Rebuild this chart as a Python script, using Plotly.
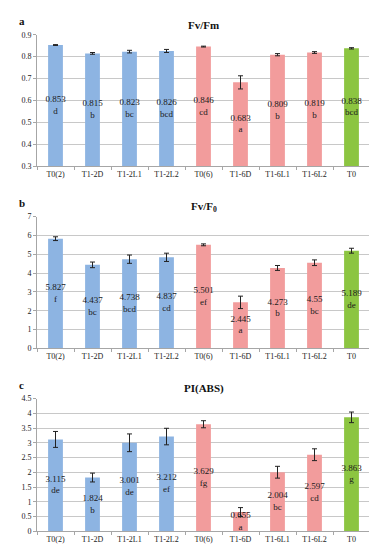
import plotly.graph_objects as go

categories = ["T0(2)", "T1-2D", "T1-2L1", "T1-2L2", "T0(6)", "T1-6D", "T1-6L1", "T1-6L2", "T0"]
colors_cat = ["#8DB4E2"] * 4 + ["#F29C9C"] * 4 + ["#8CC541"]

fvfm = [0.853, 0.815, 0.823, 0.826, 0.846, 0.683, 0.809, 0.819, 0.838]
fvfm_err = [0.002, 0.004, 0.006, 0.007, 0.002, 0.03, 0.005, 0.004, 0.003]
fvfm_letters = ["d", "b", "bc", "bcd", "cd", "a", "b", "b", "bcd"]

fvf0 = [5.827, 4.437, 4.738, 4.837, 5.501, 2.445, 4.273, 4.55, 5.189]
fvf0_err = [0.1, 0.15, 0.22, 0.22, 0.05, 0.33, 0.13, 0.15, 0.13]
fvf0_letters = ["f", "bc", "bcd", "cd", "ef", "a", "b", "bc", "de"]

pi = [3.115, 1.824, 3.001, 3.212, 3.629, 0.655, 2.004, 2.597, 3.863]
pi_err = [0.27, 0.15, 0.3, 0.28, 0.12, 0.15, 0.2, 0.2, 0.18]
pi_letters = ["de", "b", "de", "ef", "fg", "a", "bc", "cd", "g"]

panels = [
    dict(vals=fvfm, err=fvfm_err, let=fvfm_letters, rng=[0.3, 0.9], dt=0.1,
         title="<b>Fv/Fm</b>", tag="a", dom=[0.7145, 0.958]),
    dict(vals=fvf0, err=fvf0_err, let=fvf0_letters, rng=[0, 7], dt=1,
         title="<b>Fv/F<sub>0</sub></b>", tag="b", dom=[0.3782, 0.6218]),
    dict(vals=pi, err=pi_err, let=pi_letters, rng=[0, 4.5], dt=0.5,
         title="<b>PI(ABS)</b>", tag="c", dom=[0.04, 0.2855]),
]

serif = "Liberation Serif, Times New Roman, serif"
fig = go.Figure()
x0, x1 = 29 / 377, 362 / 377

for i, p in enumerate(panels, start=1):
    xa = "x" if i == 1 else f"x{i}"
    ya = "y" if i == 1 else f"y{i}"
    fig.add_trace(go.Bar(
        x=categories, y=p["vals"], marker_color=colors_cat, marker_line_width=0, width=0.4,
        error_y=dict(type="data", array=p["err"], color="#222222", thickness=1, width=2.5),
        xaxis=xa, yaxis=ya, showlegend=False, hoverinfo="skip",
    ))
    lo = p["rng"][0]
    mids = [(lo + v) / 2 for v in p["vals"]]
    texts = [f"{v:g}<br>{l}" for v, l in zip(p["vals"], p["let"])]
    fig.add_trace(go.Scatter(
        x=categories, y=mids, mode="text", text=texts,
        textfont=dict(family=serif, size=9, color="#1a1a1a"),
        xaxis=xa, yaxis=ya, showlegend=False, hoverinfo="skip",
    ))
    vals_ticks = []
    t = p["rng"][0]
    while t <= p["rng"][1] + 1e-9:
        vals_ticks.append(round(t, 2))
        t += p["dt"]
    ticktext = [f"{v:g}" for v in vals_ticks]
    xkey = "xaxis" if i == 1 else f"xaxis{i}"
    ykey = "yaxis" if i == 1 else f"yaxis{i}"
    fig.update_layout({
        xkey: dict(domain=[x0, x1], anchor=ya, showline=True, linecolor="#A6A6A6", linewidth=1,
                   ticks="outside", tickson="boundaries", ticklen=3, tickcolor="#A6A6A6",
                   tickfont=dict(family=serif, size=8, color="#222222"), showgrid=False,
                   fixedrange=True),
        ykey: dict(domain=p["dom"], anchor=xa, range=p["rng"], tickvals=vals_ticks, ticktext=ticktext,
                   showline=True, linecolor="#A6A6A6", linewidth=1, ticks="outside", ticklen=3,
                   tickcolor="#A6A6A6", showgrid=True, gridcolor="#C8C8C8", gridwidth=1,
                   tickfont=dict(family=serif, size=8, color="#222222"), zeroline=False,
                   fixedrange=True),
    })
    fig.add_annotation(text=p["title"], xref="paper", yref="paper", x=(x0 + x1) / 2,
                       y=p["dom"][1] + 0.018, xanchor="center", yanchor="middle", showarrow=False,
                       font=dict(family=serif, size=11, color="#111111"))
    fig.add_annotation(text=f"<b>{p['tag']}</b>", xref="paper", yref="paper", x=9 / 377,
                       y=p["dom"][1] + 0.025, xanchor="left", yanchor="middle", showarrow=False,
                       font=dict(family=serif, size=11, color="#111111"))

fig.update_layout(width=377, height=550, margin=dict(l=0, r=0, t=0, b=0),
                  paper_bgcolor="white", plot_bgcolor="white")
fig.write_html("out.html")
